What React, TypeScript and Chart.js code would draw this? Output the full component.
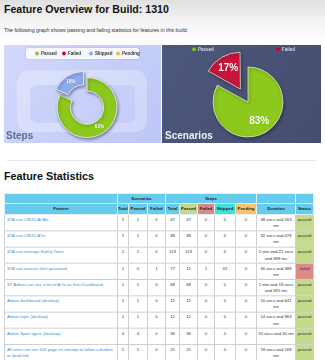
import React, { useEffect, useRef } from 'react';
import { Chart, registerables } from 'chart.js';

Chart.register(...registerables);

const FONT = '"Liberation Sans", Arial, Helvetica, sans-serif';

// ---- chart data ----
const stepLabels = ['Passed', 'Failed', 'Skipped', 'Pending'];
const stepPercents = [82, 0, 18, 0];
const stepLabelShown = [true, true, true, false];
const scenarioLabels = ['Passed', 'Failed'];
const scenarioPercents = [83, 17];
const scenarioLabelShown = [true, true];

// ---- table data ----
const featureNames = [
  'STA can CRUD AOAs',
  'STA can CRUD AOs',
  'STA can manage Safety Tools',
  'STA can recover their password',
  'ST-Admin can see a list of AOs on their Dashboard',
  'Admin dashboard (desktop)',
  'Admin login (desktop)',
  'Admin Sport types (desktop)',
  'All roles can see 404 page on attempt to follow a broken or dead link',
];
const scenarioTotal = [1, 1, 2, 1, 5, 1, 1, 4, 5];
const scenarioPassed = [1, 1, 2, 0, 5, 1, 1, 4, 5];
const scenarioFailed = [0, 0, 0, 1, 0, 0, 0, 0, 0];
const stepTotal = [47, 38, 123, 77, 68, 15, 12, 36, 25];
const stepPassed = [47, 38, 123, 15, 68, 15, 12, 36, 25];
const stepFailed = [0, 0, 0, 1, 0, 0, 0, 0, 0];
const stepSkipped = [0, 0, 0, 61, 0, 0, 0, 0, 0];
const stepPending = [0, 0, 0, 0, 0, 0, 0, 0, 0];
const durations = [
  '38 secs and 563 ms',
  '32 secs and 478 ms',
  '1 min and 22 secs and 688 ms',
  '46 secs and 388 ms',
  '1 min and 18 secs and 831 ms',
  '10 secs and 641 ms',
  '14 secs and 963 ms',
  '50 secs and 40 ms',
  '59 secs and 168 ms',
];
const statuses = ['passed', 'passed', 'passed', 'failed', 'passed', 'passed', 'passed', 'passed', 'passed'];

// ---- styles ----
const GREEN = '#8cc91c';
const RED = '#c9133c';
const SKIP = '#8eaaef';
const PEND = '#f6b523';
const K = 3; // render small text at K× and scale down

function roundRect(ctx: CanvasRenderingContext2D, x: number, y: number, w: number, h: number, r: number) {
  ctx.beginPath();
  ctx.moveTo(x + r, y);
  ctx.lineTo(x + w - r, y);
  ctx.quadraticCurveTo(x + w, y, x + w, y + r);
  ctx.lineTo(x + w, y + h - r);
  ctx.quadraticCurveTo(x + w, y + h, x + w - r, y + h);
  ctx.lineTo(x + r, y + h);
  ctx.quadraticCurveTo(x, y + h, x, y + h - r);
  ctx.lineTo(x, y + r);
  ctx.quadraticCurveTo(x, y, x + r, y);
  ctx.closePath();
}

const panelPlugin = {
  id: 'panelDecor',
  beforeDraw(chart: any, _a: any, opts: any) {
    const { ctx, width, height } = chart;
    ctx.save();
    const g = ctx.createLinearGradient(0, 0, width, height);
    g.addColorStop(0, opts.bg[0]);
    g.addColorStop(1, opts.bg[1]);
    ctx.fillStyle = g;
    ctx.fillRect(0, 0, width, height);
    (opts.rects || []).forEach((r: any) => {
      ctx.fillStyle = r.color;
      roundRect(ctx, r.x, r.y, r.w, r.h, r.r);
      ctx.fill();
    });
    const lg = opts.legend;
    if (lg && lg.box) {
      ctx.shadowColor = 'rgba(80,90,140,0.35)';
      ctx.shadowBlur = 2;
      ctx.fillStyle = '#f7f8ff';
      roundRect(ctx, lg.box.x, lg.box.y, lg.box.w, lg.box.h, 2.5);
      ctx.fill();
      ctx.shadowBlur = 0;
      ctx.shadowColor = 'transparent';
    }
    if (lg) {
      const ds = chart.data.datasets[0];
      chart.data.labels.forEach((lab: string, i: number) => {
        const cx = lg.x0 + i * lg.dx;
        const cy = lg.y;
        ctx.beginPath();
        ctx.arc(cx, cy, 1.9, 0, Math.PI * 2);
        ctx.fillStyle = lg.dotColors ? lg.dotColors[i] : ds.backgroundColor[i];
        ctx.fill();
        ctx.font = `bold ${lg.size}px ${FONT}`;
        ctx.fillStyle = lg.color;
        ctx.textBaseline = 'middle';
        ctx.textAlign = 'left';
        ctx.fillText(lab, cx + 4, cy + 0.3);
      });
    }
    ctx.restore();
  },
  beforeDatasetsDraw(chart: any) {
    const ctx = chart.ctx;
    ctx.save();
    ctx.shadowColor = 'rgba(20,20,40,0.45)';
    ctx.shadowBlur = 3;
    ctx.shadowOffsetX = 1;
    ctx.shadowOffsetY = 1.5;
  },
  afterDatasetsDraw(chart: any, _a: any, opts: any) {
    const ctx = chart.ctx;
    ctx.restore();
    ctx.save();
    const meta = chart.getDatasetMeta(0);
    const ds = chart.data.datasets[0];
    meta.data.forEach((el: any, i: number) => {
      if (!opts.shown[i]) return;
      const p = el.getProps(['startAngle', 'endAngle', 'innerRadius', 'outerRadius', 'x', 'y', 'circumference'], true);
      const off = (el.options.offset || 0) / 4;
      const fix = 1 - Math.sin(Math.min(Math.PI, p.circumference || 0));
      const t = off * (1 + fix);
      const mid = (p.startAngle + p.endAngle) / 2;
      let r = p.innerRadius > 0 ? (p.innerRadius + p.outerRadius) / 2 : p.outerRadius * opts.frac;
      const zero = p.circumference === 0;
      if (zero) r = p.outerRadius - 3;
      const x = p.x + Math.cos(mid) * (r + t);
      const y = p.y + Math.sin(mid) * (r + t);
      const v = ds.data[i];
      ctx.font = `bold ${zero ? opts.size * 0.9 : opts.size}px ${FONT}`;
      ctx.fillStyle = zero ? '#7a7f8c' : '#ffffff';
      ctx.textAlign = 'center';
      ctx.textBaseline = 'middle';
      ctx.shadowColor = zero ? 'rgba(255,255,255,0.6)' : 'rgba(0,0,0,0.25)';
      ctx.shadowBlur = 1;
      ctx.fillText(`${v}%`, x, y);
    });
    ctx.shadowBlur = 0;
    ctx.shadowColor = 'transparent';
    ctx.font = `bold 10px ${FONT}`;
    ctx.fillStyle = opts.titleColor;
    ctx.textAlign = 'left';
    ctx.textBaseline = 'alphabetic';
    ctx.fillText(opts.title, opts.titleX, opts.titleY);
    ctx.restore();
  },
};

function PanelChart({ width, height, makeConfig }: { width: number; height: number; makeConfig: () => any }) {
  const ref = useRef<HTMLCanvasElement>(null);
  useEffect(() => {
    const chart = new Chart(ref.current as HTMLCanvasElement, makeConfig());
    return () => chart.destroy();
  }, []);
  return <canvas ref={ref} width={width} height={height} style={{ display: 'block', width, height }} />;
}

const stepsConfig = () => ({
  type: 'doughnut',
  data: {
    labels: stepLabels,
    datasets: [
      {
        data: stepPercents,
        backgroundColor: [GREEN, RED, SKIP, PEND],
        borderColor: 'rgba(235,238,248,0.9)',
        borderWidth: 1,
        offset: [0, 0, 26, 0],
        radius: 30,
        cutout: '55%',
      },
    ],
  },
  options: {
    responsive: false,
    animation: false,
    radius: 30,
    cutout: '55%',
    events: [],
    layout: { padding: { left: 9, right: 0, top: 27, bottom: 0 } },
    plugins: {
      legend: { display: false },
      tooltip: { enabled: false },
      panelDecor: {
        bg: ['#d3d9fb', '#bdc6f7'],
        rects: [
          { x: 13, y: 25, w: 130, h: 62, r: 14, color: 'rgba(255,255,255,0.28)' },
          { x: 26, y: 40, w: 105, h: 38, r: 8, color: 'rgba(175,186,246,0.35)' },
        ],
        legend: {
          box: { x: 22, y: 3, w: 113, h: 11 },
          x0: 33,
          dx: 27,
          y: 8.5,
          size: 4.5,
          color: '#333',
          dotColors: [GREEN, '#d4002c', SKIP, PEND],
        },
        shown: stepLabelShown,
        frac: 0.63,
        size: 4.6,
        title: 'Steps',
        titleColor: '#5b6d8e',
        titleX: 2,
        titleY: 94,
      },
    },
  },
  plugins: [panelPlugin],
});

const scenariosConfig = () => ({
  type: 'pie',
  data: {
    labels: scenarioLabels,
    datasets: [
      {
        data: scenarioPercents,
        backgroundColor: [GREEN, RED],
        borderColor: 'rgba(230,240,210,0.75)',
        borderWidth: 1,
        offset: [0, 60],
        radius: 35,
      },
    ],
  },
  options: {
    responsive: false,
    animation: false,
    radius: 35,
    events: [],
    layout: { padding: { left: 13, right: 0, top: 16, bottom: 0 } },
    plugins: {
      legend: { display: false },
      tooltip: { enabled: false },
      panelDecor: {
        bg: ['#4d577b', '#454e70'],
        rects: [],
        legend: { x0: 32, dx: 84, y: 4.3, size: 4.5, color: '#d8dbe6', dotColors: ['#7fd000', '#d4002c'] },
        shown: scenarioLabelShown,
        frac: 0.63,
        size: 10,
        title: 'Scenarios',
        titleColor: '#f2f2f4',
        titleX: 3,
        titleY: 94,
      },
    },
  },
  plugins: [panelPlugin],
});

const colW = [113, 11, 19, 18, 14, 18, 17, 21, 21, 39, 18];

const hBase: React.CSSProperties = {
  background: '#66ccee',
  border: `${K}px solid #e4eef2`,
  fontWeight: 'bold',
  textAlign: 'center',
  padding: 0,
  color: '#222',
  verticalAlign: 'middle',
  overflow: 'hidden',
  whiteSpace: 'nowrap',
};

const tdBase: React.CSSProperties = {
  border: `${K}px solid #cfcfcf`,
  padding: `${1.5 * K}px ${0.5 * K}px 0 ${0.5 * K}px`,
  textAlign: 'center',
  verticalAlign: 'top',
  color: '#333',
  background: '#fff',
};

const scaled: React.CSSProperties = {
  position: 'absolute',
  transform: `scale(${1 / K})`,
  transformOrigin: '0 0',
};

export default function App() {
  const rows = featureNames.map((name, i) => (
    <tr key={i} style={{ height: 16.25 * K }}>
      <td style={{ ...tdBase, textAlign: 'left', paddingLeft: 2 * K, color: '#3b8fd5' }}>{name}</td>
      <td style={tdBase}>{scenarioTotal[i]}</td>
      <td style={tdBase}>{scenarioPassed[i]}</td>
      <td style={tdBase}>{scenarioFailed[i]}</td>
      <td style={tdBase}>{stepTotal[i]}</td>
      <td style={tdBase}>{stepPassed[i]}</td>
      <td style={tdBase}>{stepFailed[i]}</td>
      <td style={tdBase}>{stepSkipped[i]}</td>
      <td style={tdBase}>{stepPending[i]}</td>
      <td style={tdBase}>{durations[i]}</td>
      <td
        style={{
          ...tdBase,
          background: statuses[i] === 'passed' ? '#c5db8b' : '#df8a8a',
          color: '#333',
        }}
      >
        {statuses[i]}
      </td>
    </tr>
  ));

  return (
    <div
      style={{
        position: 'absolute',
        left: 0,
        top: 0,
        width: 325,
        height: 360,
        overflow: 'hidden',
        fontFamily: FONT,
        background: 'linear-gradient(to bottom, #e0e0e0 0px, #f4f4f4 22px, #ffffff 42px)',
      }}
    >
      <div
        style={{
          position: 'absolute',
          left: 4,
          top: 3.3,
          fontSize: 10.6,
          lineHeight: '12px',
          fontWeight: 'bold',
          color: '#111',
          whiteSpace: 'nowrap',
        }}
      >
        Feature Overview for Build: 1310
      </div>
      <div
        style={{
          ...scaled,
          left: 4,
          top: 27,
          fontSize: 5.2 * K,
          lineHeight: `${6 * K}px`,
          color: '#333',
          whiteSpace: 'nowrap',
        }}
      >
        The following graph shows passing and failing statistics for features in this build:
      </div>

      <div style={{ position: 'absolute', left: 4, top: 45 }}>
        <PanelChart width={157} height={98} makeConfig={stepsConfig} />
      </div>
      <div style={{ position: 'absolute', left: 162, top: 45, boxShadow: 'inset 0 0 0 1px #8b96c4' }}>
        <PanelChart width={159} height={98} makeConfig={scenariosConfig} />
      </div>

      <div style={{ position: 'absolute', left: 7, top: 160, width: 308, height: 1, background: '#e3e3e3' }} />

      <div
        style={{
          position: 'absolute',
          left: 4,
          top: 170.3,
          fontSize: 10.8,
          lineHeight: '12px',
          fontWeight: 'bold',
          color: '#111',
          whiteSpace: 'nowrap',
        }}
      >
        Feature Statistics
      </div>

      <div style={{ ...scaled, left: 4, top: 193 }}>
        <table
          style={{
            width: 309 * K,
            borderCollapse: 'collapse',
            tableLayout: 'fixed',
            fontFamily: FONT,
            fontSize: 4.25 * K,
            lineHeight: `${6.2 * K}px`,
          }}
        >
          <colgroup>
            {colW.map((w, i) => (
              <col key={i} style={{ width: w * K }} />
            ))}
          </colgroup>
          <thead>
            <tr style={{ height: 10 * K }}>
              <th style={hBase}></th>
              <th style={hBase} colSpan={3}>Scenarios</th>
              <th style={hBase} colSpan={5}>Steps</th>
              <th style={hBase}></th>
              <th style={hBase}></th>
            </tr>
            <tr style={{ height: 11 * K }}>
              <th style={hBase}>Feature</th>
              <th style={hBase}>Total</th>
              <th style={hBase}>Passed</th>
              <th style={hBase}>Failed</th>
              <th style={hBase}>Total</th>
              <th style={{ ...hBase, background: '#c3d98e' }}>Passed</th>
              <th style={{ ...hBase, background: '#d98787' }}>Failed</th>
              <th style={{ ...hBase, background: '#3fdfe0' }}>Skipped</th>
              <th style={{ ...hBase, background: '#f5c371' }}>Pending</th>
              <th style={hBase}>Duration</th>
              <th style={hBase}>Status</th>
            </tr>
          </thead>
          <tbody>{rows}</tbody>
        </table>
      </div>
    </div>
  );
}
